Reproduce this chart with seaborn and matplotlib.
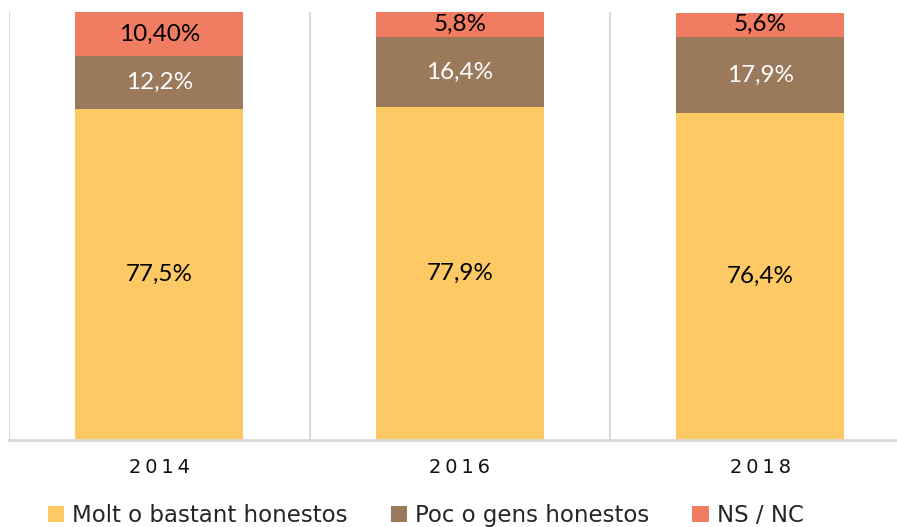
import numpy as np
import pandas as pd
import seaborn as sns
import matplotlib.pyplot as plt
from matplotlib.patches import Patch

# data
years = ["2014", "2016", "2018"]
molt = [77.5, 77.9, 76.4]
poc = [12.2, 16.4, 17.9]
nsnc = [10.4, 5.8, 5.6]
labels_molt = ["77,5%", "77,9%", "76,4%"]
labels_poc = ["12,2%", "16,4%", "17,9%"]
labels_nsnc = ["10,40%", "5,8%", "5,6%"]
series_names = ["Molt o bastant honestos", "Poc o gens honestos", "NS / NC"]

colors = ["#FDC964", "#9B7A5C", "#F07C62"]

df = pd.DataFrame({"year": years, "molt": molt, "poc": poc, "nsnc": nsnc})
df["top_poc"] = df["molt"] + df["poc"]
df["top_ns"] = df["top_poc"] + df["nsnc"]

sns.set_style("white")
plt.rcParams["font.family"] = ["DejaVu Sans"]

fig = plt.figure(figsize=(8.97, 5.27), dpi=100)
ax = fig.add_axes([9 / 897, 87 / 527, 888 / 897, 428 / 527])

# overlapping bars, tallest first
for col, c in zip(["top_ns", "top_poc", "molt"], colors[::-1]):
    sns.barplot(data=df, x="year", y=col, color=c, width=0.56, saturation=1,
                linewidth=0, edgecolor="none", ax=ax)

ax.set_ylim(0, 100.1)
ax.set_xlim(-0.5, -0.5 + 888 / 300.5)

for xv in [-0.5, 0.5, 1.5, 2.5]:
    ax.axvline(xv, color="#d9d9d9", lw=1.5, zorder=0)

for s in ["top", "right", "left"]:
    ax.spines[s].set_visible(False)
ax.spines["bottom"].set_color("#d9d9d9")
ax.spines["bottom"].set_linewidth(2)

ax.set_yticks([])
ax.set_xlabel("")
ax.set_ylabel("")
ax.set_xticks(range(len(years)))
ax.set_xticklabels(["\u2009".join(y) for y in years], fontsize=14, color="#111111")
ax.tick_params(axis="x", length=0, pad=13)

# segment labels
for i in range(len(years)):
    top_space = 100.1 - molt[i] - poc[i]
    ax.text(i, molt[i] / 2, labels_molt[i], ha="center", va="center",
            fontsize=17.5, family="Lato", color="black")
    ax.text(i, molt[i] + poc[i] / 2, labels_poc[i], ha="center", va="center",
            fontsize=17.5, family="Lato", color="white")
    ax.text(i, molt[i] + poc[i] + min(nsnc[i], top_space) / 2, labels_nsnc[i],
            ha="center", va="center", fontsize=17.5, family="Lato", color="black")

handles = [Patch(facecolor=c, edgecolor="none") for c in colors]
fig.legend(handles, series_names, loc="lower left", bbox_to_anchor=(0.030, -0.04),
           ncol=3, frameon=False, fontsize=16.5, handlelength=0.7, handleheight=0.7,
           handletextpad=0.35, columnspacing=1.9)

fig.savefig("out.png", dpi=100)
